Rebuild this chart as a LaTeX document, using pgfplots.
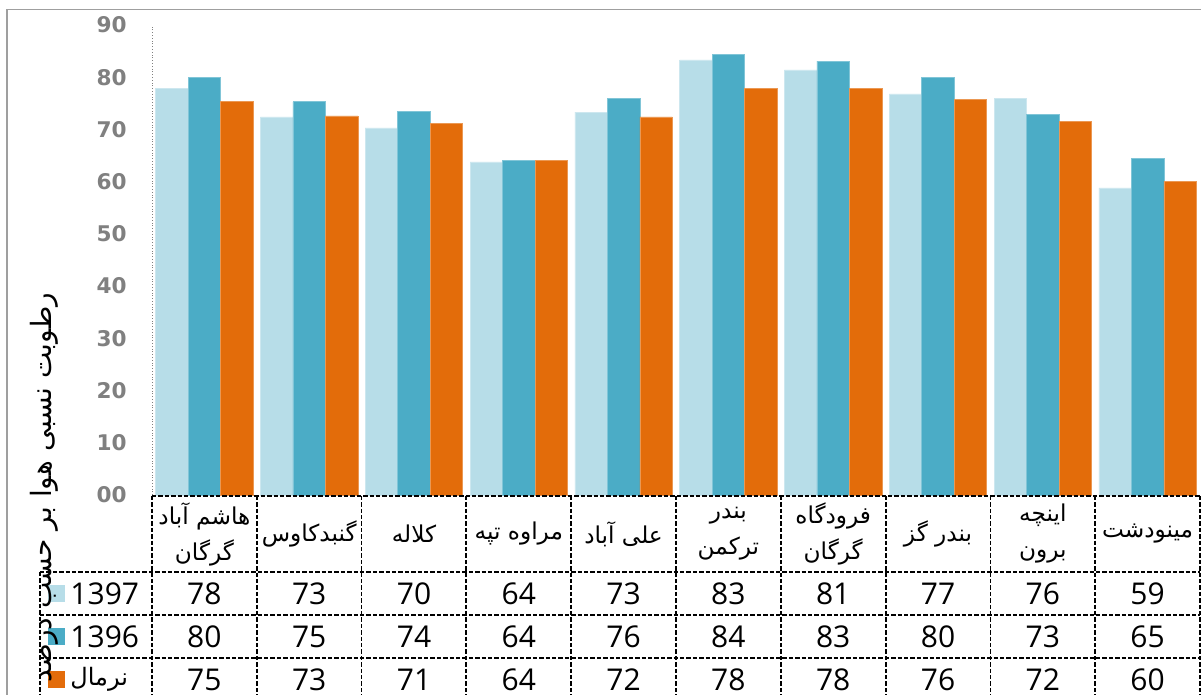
\documentclass[border=0pt]{standalone}
\usepackage{pgfplots}
\pgfplotsset{compat=1.18}
\usepackage{fontspec}
\setmainfont{Open Sans}
\newfontfamily\fa[Script=Arabic]{DejaVu Sans}
\newfontfamily\tickfont{DejaVu Sans}
\TeXXeTstate=1
\definecolor{c97}{HTML}{B7DDE8}
\definecolor{c96}{HTML}{4BACC6}
\definecolor{cnr}{HTML}{E36C0A}
\definecolor{tickgray}{HTML}{808080}
\pgfplotstableread{
x  a     b     c
1  77.9  80.0  75.4
2  72.4  75.3  72.6
3  70.3  73.5  71.2
4  63.8  64.0  64.0
5  73.3  76.0  72.4
6  83.3  84.4  77.9
7  81.4  83.1  77.9
8  76.8  80.0  75.8
9  76.0  72.9  71.6
10 58.8  64.5  60.1
}\data
\newcommand{\R}[1]{{\fa\beginR #1\endR}}
\begin{document}
\begin{tikzpicture}
\begin{axis}[
  scale only axis, width=524pt, height=235pt,
  xmin=0.5, xmax=10.5, ymin=0, ymax=90,
  ybar=0pt, bar width=16.25pt,
  axis x line=none,
  axis y line*=left,
  y axis line style={densely dotted, tickgray, -},
  ytick={0,10,...,90},
  yticklabels={00,10,20,30,40,50,60,70,80,90},
  major tick length=0pt,
  yticklabel style={font=\tickfont\bfseries\fontsize{10.8}{12}\selectfont, text=tickgray, inner sep=0pt, xshift=-12.5pt},
  clip=false,
]
\addplot[fill=c97, draw=c97!70!white, line width=0.3pt] table[x=x,y=a]{\data};
\addplot[fill=c96, draw=c96!70!white, line width=0.3pt] table[x=x,y=b]{\data};
\addplot[fill=cnr, draw=cnr!70!white, line width=0.3pt] table[x=x,y=c]{\data};
\coordinate (O) at (axis cs:0.5,0);
% outer frame
\draw[gray!75, line width=0.8pt] (axis cs:-0.8836,-45) |- (axis cs:11,93.0);
% table grid
\begin{scope}[black, line width=0.9pt, dash pattern=on 2.2pt off 1pt]
\draw (axis cs:0.5,-0.15) -- (axis cs:10.5,-0.15);
\draw (axis cs:-0.5687,-14.74) -- (axis cs:10.5,-14.74);
\draw (axis cs:-0.5687,-22.98) -- (axis cs:10.5,-22.98);
\draw (axis cs:-0.5687,-31.21) -- (axis cs:10.5,-31.21);
\draw (axis cs:-0.5687,-14.74) -- (axis cs:-0.5687,-45);
\draw (axis cs:0.5,-0.15) -- (axis cs:0.5,-45);
\draw (axis cs:1.5,-0.15) -- (axis cs:1.5,-45);
\draw (axis cs:2.5,-0.15) -- (axis cs:2.5,-45);
\draw (axis cs:3.5,-0.15) -- (axis cs:3.5,-45);
\draw (axis cs:4.5,-0.15) -- (axis cs:4.5,-45);
\draw (axis cs:5.5,-0.15) -- (axis cs:5.5,-45);
\draw (axis cs:6.5,-0.15) -- (axis cs:6.5,-45);
\draw (axis cs:7.5,-0.15) -- (axis cs:7.5,-45);
\draw (axis cs:8.5,-0.15) -- (axis cs:8.5,-45);
\draw (axis cs:9.5,-0.15) -- (axis cs:9.5,-45);
\draw (axis cs:10.5,-0.15) -- (axis cs:10.5,-45);
\end{scope}
% header
\begin{scope}[every node/.style={align=center, font=\fontsize{11.6}{18}\selectfont, inner sep=0pt}]
\node at (axis cs:1,-7.47) {\R{هاشم آباد}\\\R{گرگان}};
\node at (axis cs:2,-7.47) {\R{گنبدکاوس}};
\node at (axis cs:3,-7.47) {\R{کلاله}};
\node at (axis cs:4,-7.47) {\R{مراوه تپه}};
\node at (axis cs:5,-7.47) {\R{علی آباد}};
\node at (axis cs:6,-7.47) {\R{بندر}\\\R{ترکمن}};
\node at (axis cs:7,-7.47) {\R{فرودگاه}\\\R{گرگان}};
\node at (axis cs:8,-7.47) {\R{بندر گز}};
\node at (axis cs:9,-7.47) {\R{اینچه}\\\R{برون}};
\node at (axis cs:10,-7.47) {\R{مینودشت}};
\end{scope}
% values
\begin{scope}[every node/.style={font=\fontsize{15}{18}\selectfont, inner sep=0pt}]
\node at (axis cs:1,-18.86) {78};
\node at (axis cs:2,-18.86) {73};
\node at (axis cs:3,-18.86) {70};
\node at (axis cs:4,-18.86) {64};
\node at (axis cs:5,-18.86) {73};
\node at (axis cs:6,-18.86) {83};
\node at (axis cs:7,-18.86) {81};
\node at (axis cs:8,-18.86) {77};
\node at (axis cs:9,-18.86) {76};
\node at (axis cs:10,-18.86) {59};
\node at (axis cs:1,-27.1) {80};
\node at (axis cs:2,-27.1) {75};
\node at (axis cs:3,-27.1) {74};
\node at (axis cs:4,-27.1) {64};
\node at (axis cs:5,-27.1) {76};
\node at (axis cs:6,-27.1) {84};
\node at (axis cs:7,-27.1) {83};
\node at (axis cs:8,-27.1) {80};
\node at (axis cs:9,-27.1) {73};
\node at (axis cs:10,-27.1) {65};
\node at (axis cs:1,-35.33) {75};
\node at (axis cs:2,-35.33) {73};
\node at (axis cs:3,-35.33) {71};
\node at (axis cs:4,-35.33) {64};
\node at (axis cs:5,-35.33) {72};
\node at (axis cs:6,-35.33) {78};
\node at (axis cs:7,-35.33) {78};
\node at (axis cs:8,-35.33) {76};
\node at (axis cs:9,-35.33) {72};
\node at (axis cs:10,-35.33) {60};
% legend
\node[fill=c97, minimum size=8.5pt] at (axis cs:-0.411,-18.86) {};
\node[fill=c96, minimum size=8.5pt] at (axis cs:-0.411,-27.1) {};
\node[fill=cnr, minimum size=8.5pt] at (axis cs:-0.411,-35.33) {};
\node[anchor=west] at (axis cs:-0.282,-18.86) {1397};
\node[anchor=west] at (axis cs:-0.282,-27.1) {1396};
\node[anchor=west, font=\fontsize{12}{16}\selectfont] at (axis cs:-0.282,-35.33) {\R{نرمال}};
\end{scope}
% y label
\node[rotate=90, font=\fa\fontsize{14}{18}\selectfont, inner sep=0pt] at (axis cs:-0.5305,1.44) {\beginR رطوبت نسبی هوا بر حسب درصد\endR};
\end{axis}
\pgfresetboundingbox
\useasboundingbox (O) ++(-76pt,-100pt) rectangle ++(600.5pt,347.5pt);
\end{tikzpicture}
\end{document}
